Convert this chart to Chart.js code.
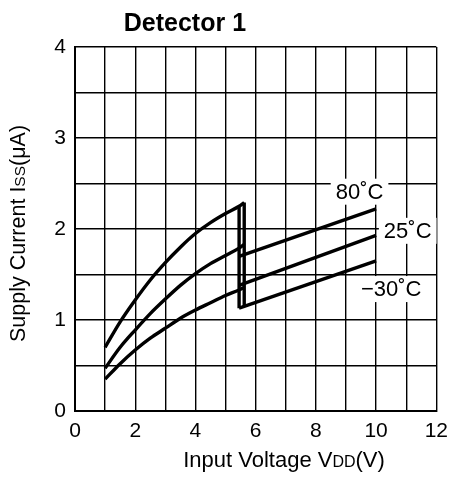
<!DOCTYPE html>
<html>
<head>
<meta charset="utf-8">
<script src="https://cdn.jsdelivr.net/npm/chart.js@4.4.1/dist/chart.umd.min.js"></script>
<style>
  html, body { margin: 0; padding: 0; background: #fff; }
  #wrap { width: 456px; height: 477px; }
</style>
</head>
<body>
<div id="wrap"><canvas id="c" width="456" height="477"></canvas></div>
<script>
// ---- Data ----
const chartTitle = 'Detector 1';
const xTickValues = [0, 2, 4, 6, 8, 10, 12];
const yTickValues = [0, 1, 2, 3, 4];

// Rising branch (V)
const vRise = [1, 1.5, 2, 2.5, 3, 3.5, 4, 4.5, 5, 5.45, 5.62];
const iRise80 = [0.70, 0.98, 1.22, 1.44, 1.63, 1.80, 1.95, 2.07, 2.17, 2.25, 2.29];
const iRise25 = [0.47, 0.70, 0.89, 1.07, 1.23, 1.38, 1.51, 1.62, 1.71, 1.79, 1.83];
const iRiseM30 = [0.35, 0.52, 0.67, 0.80, 0.91, 1.02, 1.11, 1.19, 1.27, 1.33, 1.36];

// After detection (V)
const vAfter = [5.45, 10];
const iAfter80 = [1.70, 2.22];
const iAfter25 = [1.38, 1.93];
const iAfterM30 = [1.13, 1.65];

// Vertical jumps (hysteresis)
const vJump = [5.45, 5.62];
const iJumpLow = [1.13, 1.15];
const iJumpHigh = [2.25, 2.29];

// Curve labels
const curveLabels = ['80˚C', '25˚C', '−30˚C'];
const labelX = [9.45, 11.05, 10.5];
const labelY = [2.41, 1.98, 1.34];

// ---- Build datasets ----
function pts(xs, ys) { return xs.map((x, i) => ({ x: x, y: ys[i] })); }
const lineStyle = { borderColor: '#000', borderWidth: 3.4, pointRadius: 0, fill: false, showLine: true };
const datasets = [
  Object.assign({ label: '80 rise', data: pts(vRise, iRise80), cubicInterpolationMode: 'monotone' }, lineStyle),
  Object.assign({ label: '25 rise', data: pts(vRise, iRise25), cubicInterpolationMode: 'monotone' }, lineStyle),
  Object.assign({ label: '-30 rise', data: pts(vRise, iRiseM30), cubicInterpolationMode: 'monotone' }, lineStyle),
  Object.assign({ label: '80 after', data: pts(vAfter, iAfter80) }, lineStyle),
  Object.assign({ label: '25 after', data: pts(vAfter, iAfter25) }, lineStyle),
  Object.assign({ label: '-30 after', data: pts(vAfter, iAfterM30) }, lineStyle),
];
vJump.forEach((v, i) => {
  datasets.push(Object.assign({ label: 'jump' + i, data: [{ x: v, y: iJumpLow[i] }, { x: v, y: iJumpHigh[i] }] }, lineStyle));
});

const FONT = '"Liberation Sans", Arial, sans-serif';

const annotate = {
  id: 'annotate',
  beforeDatasetsDraw(chart) {
    const ctx = chart.ctx;
    const xs = chart.scales.x, ys = chart.scales.y;
    ctx.save();
    ctx.font = '22px ' + FONT;
    ctx.textAlign = 'center';
    ctx.textBaseline = 'middle';
    curveLabels.forEach((t, i) => {
      const px = xs.getPixelForValue(labelX[i]);
      const py = ys.getPixelForValue(labelY[i]);
      const w = ctx.measureText(t).width;
      ctx.fillStyle = '#fff';
      ctx.fillRect(px - w / 2 - 5, py - 13, w + 10, 26);
      ctx.fillStyle = '#000';
      ctx.fillText(t, px, py + 1);
    });
    ctx.restore();
  },
  afterDraw(chart) {
    const ctx = chart.ctx;
    const xs = chart.scales.x, ys = chart.scales.y;
    ctx.save();
    ctx.fillStyle = '#000';
    // Title
    ctx.font = 'bold 25px ' + FONT;
    ctx.textAlign = 'center';
    ctx.textBaseline = 'alphabetic';
    ctx.fillText(chartTitle, xs.getPixelForValue(3.65), 31);

    // X axis title with small-caps subscript
    const big = '22px ' + FONT, small = '16px ' + FONT;
    const xParts = [['Input Voltage V', big], ['DD', small], ['(V)', big]];
    let total = 0;
    xParts.forEach(p => { ctx.font = p[1]; total += ctx.measureText(p[0]).width; });
    let x0 = 284 - total / 2;
    ctx.textAlign = 'left';
    xParts.forEach(p => { ctx.font = p[1]; ctx.fillText(p[0], x0, 467); x0 += ctx.measureText(p[0]).width; });

    // Y axis title rotated
    const ybig = '21.5px ' + FONT, ysmall = '15.5px ' + FONT;
    const yParts = [['Supply Current I', ybig], ['SS', ysmall], ['(μA)', ybig]];
    ctx.translate(25, 342);
    ctx.rotate(-Math.PI / 2);
    let y0 = 0;
    yParts.forEach(p => { ctx.font = p[1]; ctx.fillText(p[0], y0, 0); y0 += ctx.measureText(p[0]).width; });
    ctx.restore();
  }
};

new Chart(document.getElementById('c'), {
  type: 'scatter',
  data: { datasets: datasets },
  options: {
    responsive: false,
    devicePixelRatio: 1,
    animation: false,
    layout: { padding: { top: 47, right: 14, left: 0, bottom: 0 } },
    plugins: { legend: { display: false }, title: { display: false }, tooltip: { enabled: false } },
    scales: {
      x: {
        type: 'linear', min: 0, max: 12,
        afterFit(s) { s.height = 66; },
        ticks: {
          stepSize: 1, autoSkip: false, maxRotation: 0, padding: 8,
          color: '#000', font: { size: 21, family: FONT },
          callback: v => xTickValues.includes(v) ? String(v) : ''
        },
        grid: { color: '#000', lineWidth: 1.4, drawTicks: false },
        border: { color: '#000', width: 2 }
      },
      y: {
        type: 'linear', min: 0, max: 4,
        afterFit(s) { s.width = 75; },
        ticks: {
          stepSize: 0.5, autoSkip: false, padding: 9,
          color: '#000', font: { size: 21, family: FONT },
          callback: v => yTickValues.includes(v) ? String(v) : ''
        },
        grid: { color: '#000', lineWidth: 1.4, drawTicks: false },
        border: { color: '#000', width: 2 }
      }
    }
  },
  plugins: [annotate]
});
</script>
</body>
</html>
